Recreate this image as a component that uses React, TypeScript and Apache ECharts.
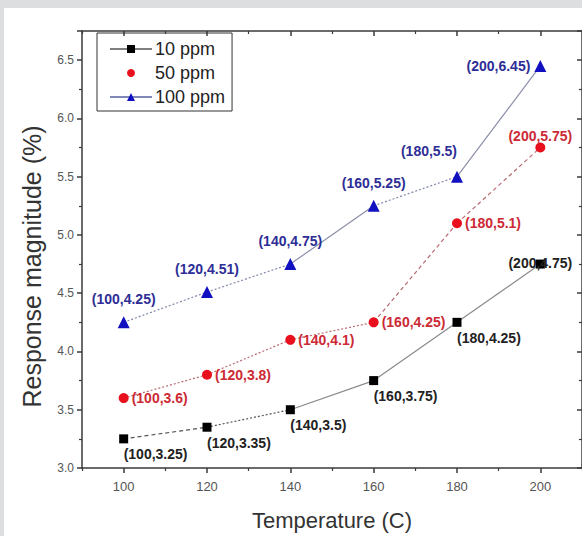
import React, { useEffect, useRef } from "react";
import * as echarts from "echarts";

const temperatures = [100, 120, 140, 160, 180, 200];
const ppm10 = [3.25, 3.35, 3.5, 3.75, 4.25, 4.75];
const ppm50 = [3.6, 3.8, 4.1, 4.25, 5.1, 5.75];
const ppm100 = [4.25, 4.51, 4.75, 5.25, 5.5, 6.45];
const xMajorTicks = [100, 120, 140, 160, 180, 200];
const xMinorTicks = [90, 110, 130, 150, 170, 190, 210];
const seriesNames = ["10 ppm", "50 ppm", "100 ppm"];

const FONT = "'Liberation Sans', Arial, sans-serif";

const seg10 = ["dashed", "dotted", "solid", "solid", "solid"];
const seg50 = ["dotted", "dotted", "dotted", "dashed", "dashed"];
const seg100 = ["dotted", "dotted", "solid", "dotted", "solid"];

function fmt(x: number, y: number) {
  return `(${x},${y})`;
}

export default function App() {
  const ref = useRef<HTMLDivElement>(null);
  useEffect(() => {
    if (!ref.current) return;
    const chart = echarts.init(ref.current, null, { renderer: "svg" });

    const segments = (vals: number[], types: string[], colors: string[]) =>
      types.map((t, i) => ({
        type: "line",
        silent: true,
        symbol: "none",
        xAxisIndex: 0,
        yAxisIndex: 0,
        z: 1,
        lineStyle: {
          color: colors[t === "solid" ? 1 : 0],
          width: 1.2,
          type: t === "dotted" ? [2, 2] : t === "dashed" ? [4, 3] : "solid",
        },
        data: [
          [temperatures[i], vals[i]],
          [temperatures[i + 1], vals[i + 1]],
        ],
      }));

    const labelBase = { show: true, fontFamily: FONT, fontWeight: "bold", fontSize: 14 };

    const blackLabels = temperatures.map((t, i) => {
      if (i === 5) return { ...labelBase, color: "#222", position: "top", distance: -10, formatter: fmt(t, ppm10[i]) };
      return { ...labelBase, color: "#222", position: "bottom", align: "left", distance: 4, formatter: fmt(t, ppm10[i]) };
    });
    const redLabels = temperatures.map((t, i) => {
      if (i === 5) return { ...labelBase, color: "#cc2a35", position: "top", distance: 0, formatter: fmt(t, ppm50[i]) };
      return { ...labelBase, color: "#cc2a35", position: "right", distance: 3, formatter: fmt(t, ppm50[i]) };
    });
    const blueLabels = temperatures.map((t, i) => {
      if (i === 5) return { ...labelBase, color: "#2e2e96", position: "left", distance: 4, formatter: fmt(t, ppm100[i]) };
      if (i === 4) return { ...labelBase, color: "#2e2e96", position: "top", align: "right", distance: 13, formatter: fmt(t, ppm100[i]) };
      return { ...labelBase, color: "#2e2e96", position: "top", distance: 10, formatter: fmt(t, ppm100[i]) };
    });

    const mainSeries = (name: string, vals: number[], symbol: string, size: number, color: string, labels: any[]) => ({
      type: "line",
      name,
      symbol,
      symbolSize: size,
      z: 3,
      xAxisIndex: 0,
      yAxisIndex: 0,
      lineStyle: { width: 1.5, color: "rgba(0,0,0,0)" },
      itemStyle: { color },
      data: temperatures.map((t, i) => ({ value: [t, vals[i]], label: labels[i] })),
    });

    const axisLineStyle = { color: "#3a3a3a", width: 1.5 };

    chart.setOption({
      animation: false,
      backgroundColor: "#ffffff",
      grid: { left: 78, right: -4, top: 23, bottom: 60 },
      legend: {
        orient: "vertical",
        left: 93,
        top: 25,
        padding: [6, 7, 4, 12],
        borderColor: "#333",
        borderWidth: 1,
        borderRadius: 0,
        itemWidth: 42,
        itemHeight: 10,
        itemGap: 4,
        textStyle: { fontFamily: FONT, fontSize: 18, color: "#222", lineHeight: 20, padding: [0, 0, 0, -2] },
        data: [
          { name: seriesNames[0], lineStyle: { color: "#555", width: 1.5 } },
          { name: seriesNames[1] },
          { name: seriesNames[2], lineStyle: { color: "#5560a0", width: 1.5 } },
        ],
      },
      xAxis: [
        {
          type: "value",
          min: 90,
          max: 210,
          position: "bottom",
          name: "Temperature (C)",
          nameLocation: "middle",
          nameGap: 41,
          nameTextStyle: { fontFamily: FONT, fontSize: 22, color: "#333" },
          axisLine: { show: true, lineStyle: axisLineStyle },
          axisTick: { show: true, customValues: xMajorTicks, length: 5, lineStyle: { color: "#3a3a3a", width: 1.5 } },
          axisLabel: { customValues: xMajorTicks, fontFamily: FONT, fontSize: 13, color: "#555", margin: 12 },
          splitLine: { show: false },
        },
        {
          type: "value",
          min: 90,
          max: 210,
          position: "bottom",
          axisLine: { show: false },
          axisTick: { show: true, customValues: xMinorTicks, length: 3, lineStyle: { color: "#3a3a3a", width: 1.2 } },
          axisLabel: { show: false },
          splitLine: { show: false },
        },
        {
          type: "value",
          min: 90,
          max: 210,
          position: "top",
          axisLine: { show: true, lineStyle: axisLineStyle },
          axisTick: { show: true, inside: true, customValues: xMajorTicks, length: 5, lineStyle: { color: "#3a3a3a", width: 1.5 } },
          axisLabel: { show: false },
          splitLine: { show: false },
        },
        {
          type: "value",
          min: 90,
          max: 210,
          position: "top",
          axisLine: { show: false },
          axisTick: { show: true, inside: true, customValues: xMinorTicks, length: 3, lineStyle: { color: "#3a3a3a", width: 1.2 } },
          axisLabel: { show: false },
          splitLine: { show: false },
        },
      ],
      yAxis: [
        {
          type: "value",
          min: 3,
          max: 6.75,
          interval: 0.5,
          position: "left",
          name: "Response magnitude (%)",
          nameLocation: "middle",
          nameGap: 38,
          nameTextStyle: { fontFamily: FONT, fontSize: 25, color: "#333", padding: [0, 34, 0, 0] },
          axisLine: { show: true, lineStyle: axisLineStyle },
          axisTick: { show: true, length: 5, lineStyle: { color: "#3a3a3a", width: 1.5 } },
          minorTick: { show: true, splitNumber: 2, length: 3, lineStyle: { color: "#3a3a3a", width: 1.2 } },
          axisLabel: {
            fontFamily: FONT,
            fontSize: 12,
            color: "#555",
            margin: 8,
            showMaxLabel: false,
            formatter: (v: number) => v.toFixed(1),
          },
          splitLine: { show: false },
          minorSplitLine: { show: false },
        },
        {
          type: "value",
          min: 3,
          max: 6.75,
          interval: 0.5,
          position: "right",
          axisLine: { show: true, lineStyle: axisLineStyle },
          axisTick: { show: true, inside: true, length: 5, lineStyle: { color: "#3a3a3a", width: 1.5 } },
          minorTick: { show: true, splitNumber: 2, length: 3, lineStyle: { color: "#3a3a3a", width: 1.2 } },
          axisLabel: { show: false },
          splitLine: { show: false },
        },
      ],
      series: [
        ...segments(ppm10, seg10, ["#555", "#8a8a8a"]),
        ...segments(ppm50, seg50, ["#b86a72", "#b86a72"]),
        ...segments(ppm100, seg100, ["#8088aa", "#8a8ea8"]),
        mainSeries(seriesNames[0], ppm10, "rect", 9, "#000000", blackLabels),
        mainSeries(seriesNames[1], ppm50, "circle", 10, "#e8101c", redLabels),
        mainSeries(seriesNames[2], ppm100, "triangle", 12, "#1010c0", blueLabels),
      ],
    });
    return () => chart.dispose();
  }, []);

  return (
    <div style={{ position: "fixed", left: 0, top: 0, width: 582, height: 536, background: "#dcdee0", overflow: "hidden" }}>
      <div ref={ref} style={{ position: "absolute", left: 4, top: 8, width: 578, height: 528 }} />
    </div>
  );
}
